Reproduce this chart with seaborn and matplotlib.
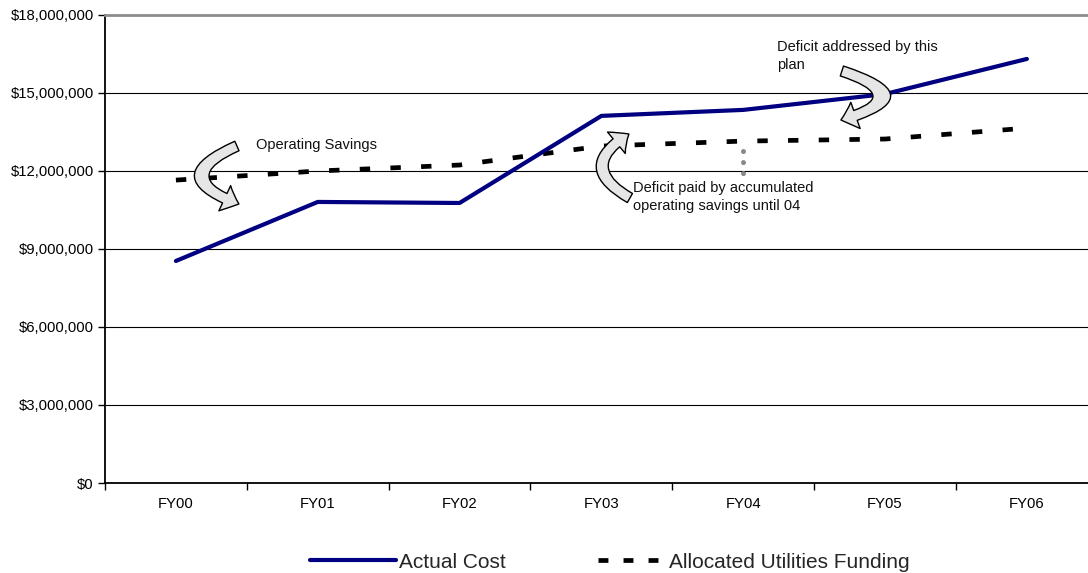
import numpy as np
import pandas as pd
import matplotlib
matplotlib.use("Agg")
import matplotlib.pyplot as plt
from matplotlib.patches import FancyArrowPatch
from matplotlib.lines import Line2D
from matplotlib.ticker import FuncFormatter, FixedLocator
import seaborn as sns

# ---- data ----
years = ["FY00", "FY01", "FY02", "FY03", "FY04", "FY05", "FY06"]
actual_cost = [8.54e6, 10.81e6, 10.77e6, 14.12e6, 14.35e6, 14.96e6, 16.31e6]
allocated_funding = [11.65e6, 12.00e6, 12.23e6, 12.96e6, 13.15e6, 13.23e6, 13.65e6]
y_ticks = [0, 3e6, 6e6, 9e6, 12e6, 15e6, 18e6]
series_labels = ["Actual Cost", "Allocated Utilities Funding"]
notes = ["Operating Savings",
         "Deficit paid by accumulated\noperating savings until 04",
         "Deficit addressed by this\nplan"]

sns.set_style("white")
plt.rcParams["font.family"] = ["Liberation Sans", "DejaVu Sans"]

W, H = 1088, 573
fig = plt.figure(figsize=(W / 100, H / 100), dpi=100)
ax_left, ax_right, ax_top, ax_bottom = 105, 1097.8, 15, 483
ax = fig.add_axes([ax_left / W, 1 - ax_bottom / H, (ax_right - ax_left) / W,
                   (ax_bottom - ax_top) / H])

pos = np.arange(len(years))
df = pd.DataFrame({"pos": pos, "actual": actual_cost, "alloc": allocated_funding})

NAVY = "#000080"
sns.lineplot(data=df, x="pos", y="actual", ax=ax, color=NAVY, lw=3.0,
             solid_capstyle="round", solid_joinstyle="round",
             label=series_labels[0], zorder=5)
sns.lineplot(data=df, x="pos", y="alloc", ax=ax, color="black", lw=3.4,
             linestyle=(0, (2.2, 4.3)), dash_capstyle="butt",
             label=series_labels[1], zorder=4)
if ax.get_legend() is not None:
    ax.get_legend().remove()

ax.set_xlim(-0.5, len(years) - 0.5)
ax.set_ylim(0, 18e6)
ax.set_xlabel("")
ax.set_ylabel("")

# y axis
ax.yaxis.set_major_locator(FixedLocator(y_ticks))
ax.yaxis.set_major_formatter(FuncFormatter(lambda v, p: f"${v:,.0f}"))
ax.grid(axis="y", color="black", lw=0.8)
ax.grid(axis="x", visible=False)
ax.set_axisbelow(True)

# x axis: labels at categories, ticks at boundaries
ax.set_xticks(np.arange(len(years) + 1) - 0.5)
ax.set_xticklabels([])
ax.set_xticks(pos, minor=True)
ax.set_xticklabels(years, minor=True)
ax.tick_params(axis="x", which="major", direction="out", length=5, width=1,
               color="black", bottom=True)
ax.tick_params(axis="x", which="minor", length=0, pad=10, labelsize=10.7,
               labelcolor="black")
ax.tick_params(axis="y", direction="out", length=5, width=1, color="black",
               left=True, labelsize=10.7, labelcolor="black", pad=3)

for s in ["left", "bottom"]:
    ax.spines[s].set_color("black")
    ax.spines[s].set_linewidth(1.3)
ax.spines["top"].set_color("#8c8c8c")
ax.spines["top"].set_linewidth(2.0)
ax.spines["right"].set_visible(False)

# ---- annotations (pixel positions converted to data) ----
def px2d(px, py):
    x = (px - 176) / 141.83
    y = (ax_bottom - py) / 26.0 * 1e6
    return x, y

fs_note = 10.5
x, y = px2d(256, 145)
ax.text(x, y, notes[0], fontsize=fs_note, ha="left", va="center", color="#111111")
x, y = px2d(633, 197)
ax.text(x, y, notes[1], fontsize=fs_note, ha="left", va="center",
        linespacing=1.45, color="#111111")
x, y = px2d(777, 56)
ax.text(x, y, notes[2], fontsize=fs_note, ha="left", va="center",
        linespacing=1.45, color="#111111")

# grey dotted connector at FY04
x0, y0 = px2d(743, 150.5)
x1, y1 = px2d(743, 176)
ax.plot([x0, x1], [y0, y1], color="#888888", lw=3.6,
        linestyle=(0, (0.01, 2.2)), dash_capstyle="round", zorder=3)

arrow_style = "simple,head_length=11,head_width=20,tail_width=7.5"
arrows = [((237, 146), (239, 204), 1.25),
          ((630, 198), (629, 134), -0.85),
          ((842, 71), (841, 120), -1.65)]
for (ta, tb), (ha_, hb), rad in arrows:
    pa = px2d(ta, tb)
    pb = px2d(ha_, hb)
    arr = FancyArrowPatch(pa, pb, arrowstyle=arrow_style,
                          connectionstyle=f"arc3,rad={rad}",
                          mutation_scale=1, shrinkA=0, shrinkB=0,
                          facecolor="#e6e6e6", edgecolor="black", lw=1.0,
                          zorder=6)
    ax.add_patch(arr)

# ---- legend ----
lines = ax.get_lines()
fs_leg = 15.0
dash_proxy = Line2D([], [], color="black", lw=3.4,
                    linestyle=(0, (2.1, 3.2)), dash_capstyle="butt")
leg1 = fig.legend([lines[0]], [series_labels[0]], loc="center left",
                  bbox_to_anchor=(310 / W, 1 - 562 / H), frameon=False,
                  fontsize=fs_leg, borderpad=0, borderaxespad=0,
                  handlelength=4.15, handletextpad=0.12)
leg2 = fig.legend([dash_proxy], [series_labels[1]], loc="center left",
                  bbox_to_anchor=(598 / W, 1 - 562 / H), frameon=False,
                  fontsize=fs_leg, borderpad=0, borderaxespad=0,
                  handlelength=2.95, handletextpad=0.45)

fig.savefig("out.png", dpi=100)
